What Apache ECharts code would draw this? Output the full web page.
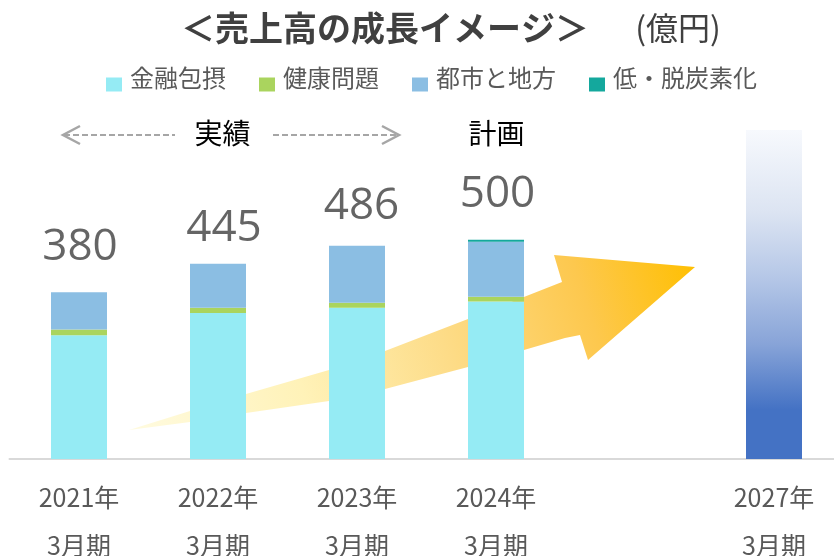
<!DOCTYPE html>
<html>
<head>
<meta charset="utf-8">
<script src="https://cdn.jsdelivr.net/npm/echarts@6/dist/echarts.min.js"></script>
<style>
  html, body { margin: 0; padding: 0; background: #ffffff; }
  #chart { width: 834px; height: 556px; }
</style>
</head>
<body>
<div id="chart"></div>
<script>
// 決算期（2025年・2026年は空欄）
const periods = ['2021年\n3月期', '2022年\n3月期', '2023年\n3月期', '2024年\n3月期', '', '2027年\n3月期'];

// 売上高の内訳（億円）
const financialInclusion = [282, 333, 345, 359, '-', '-'];
const healthIssues       = [13, 12, 11, 11, '-', '-'];
const urbanRegional      = [85, 100, 130, 125, '-', '-'];
const decarbonization    = [0, 0, 0, 5, '-', '-'];

// 合計（億円）
const totals = [380, 445, 486, 500, '-', '-'];

// 2027年3月期の目標イメージ
const target2027 = ['-', '-', '-', '-', '-', 750];

// 合計ラベルの位置調整 [dx, dy]
const totalLabelShift = [[1, -45], [6, -35], [4.5, -39], [1.5, -45]];

const JP = "'Noto Sans CJK JP', 'Noto Sans', sans-serif";
const barW = 56;

const chart = echarts.init(document.getElementById('chart'), null, { renderer: 'canvas' });

function stackSeries(name, data, color) {
  return {
    name: name,
    type: 'bar',
    stack: 'total',
    barWidth: barW,
    data: data,
    z: 3,
    itemStyle: { color: color },
    emphasis: { disabled: true },
    silent: true
  };
}

const legendIcon = 'path://M0,0M19,0M0,14L16,14L16,28L0,28Z';

// 成長を示す矢印の形
const arrowPoints = [
  [129, 430], [190, 411], [246, 394], [329, 370], [385, 351], [468, 319], [562, 282],
  [554, 255], [695, 267], [588, 360], [580, 335], [565, 338], [524, 350], [468, 367],
  [385, 389], [329, 401], [246, 413], [190, 422]
];

const dashedColor = '#A6A6A6';

const option = {
  animation: false,
  backgroundColor: '#ffffff',
  grid: { left: 9.5, top: 108, width: 834, height: 351, containLabel: false, outerBoundsMode: 'none' },
  legend: {
    data: ['金融包摂', '健康問題', '都市と地方', '低・脱炭素化'],
    left: 106,
    top: 63.5,
    padding: 0,
    itemWidth: 19,
    itemHeight: 28,
    itemGap: 33,
    icon: legendIcon,
    selectedMode: false,
    textStyle: { fontSize: 24, color: '#595959', fontFamily: JP }
  },
  xAxis: {
    type: 'category',
    data: periods,
    boundaryGap: true,
    axisLine: { show: true, lineStyle: { color: '#D9D9D9', width: 2 } },
    axisTick: { show: false },
    axisLabel: {
      interval: 0,
      margin: 14,
      fontSize: 25,
      lineHeight: 48,
      color: '#595959',
      fontFamily: JP
    },
    splitLine: { show: false }
  },
  yAxis: {
    type: 'value',
    min: 0,
    max: 800,
    show: false,
    splitLine: { show: false }
  },
  series: [
    stackSeries('金融包摂', financialInclusion, '#95EBF4'),
    stackSeries('健康問題', healthIssues, '#AAD45E'),
    stackSeries('都市と地方', urbanRegional, '#8BBEE3'),
    stackSeries('低・脱炭素化', decarbonization, '#14A89D'),
    {
      name: '2027年目標',
      type: 'bar',
      stack: 'total',
      barWidth: barW,
      z: 3,
      data: target2027,
      silent: true,
      itemStyle: {
        color: new echarts.graphic.LinearGradient(0, 0, 0, 1, [
          { offset: 0, color: '#F7F9FD' },
          { offset: 0.25, color: '#DCE4F2' },
          { offset: 0.45, color: '#B5C7E7' },
          { offset: 0.65, color: '#88A4D8' },
          { offset: 0.85, color: '#4472C4' },
          { offset: 1, color: '#4472C4' }
        ])
      }
    },
    {
      name: '合計',
      type: 'scatter',
      data: totals,
      symbolSize: 1,
      z: 4,
      silent: true,
      itemStyle: { color: 'rgba(0,0,0,0)' },
      label: {
        show: true,
        position: 'inside',
        fontSize: 44,
        fontFamily: "'Open Sans', 'Noto Sans', sans-serif",
        color: '#3F3F3F',
        formatter: p => String(totals[p.dataIndex])
      },
      labelLayout: p => {
        const s = totalLabelShift[p.dataIndex] || [0, 0];
        return { dx: s[0], dy: s[1] };
      }
    }
  ],
  graphic: [
    {
      type: 'polygon',
      z: 0,
      silent: true,
      shape: { points: arrowPoints },
      style: {
        fill: new echarts.graphic.LinearGradient(0, 1, 1, 0, [
          { offset: 0, color: '#FFFBE0' },
          { offset: 0.3, color: '#FFF2B8' },
          { offset: 0.55, color: '#FDDC88' },
          { offset: 0.8, color: '#FDC84E' },
          { offset: 1, color: '#FFBF00' }
        ])
      }
    },
    {
      type: 'text',
      x: 385, y: 28, silent: true,
      style: {
        text: '＜売上高の成長イメージ＞',
        align: 'center', verticalAlign: 'middle',
        font: "bold 34px 'Noto Sans CJK JP'",
        fill: '#404040'
      }
    },
    {
      type: 'text',
      x: 678, y: 28, silent: true,
      style: {
        text: '(億円)',
        align: 'center', verticalAlign: 'middle',
        font: "32px 'Noto Sans CJK JP'",
        fill: '#404040'
      }
    },
    {
      type: 'text',
      x: 222.5, y: 133, silent: true,
      style: {
        text: '実績', align: 'center', verticalAlign: 'middle',
        font: "28px 'Noto Sans CJK JP'", fill: '#000000'
      }
    },
    {
      type: 'text',
      x: 496.5, y: 133, silent: true,
      style: {
        text: '計画', align: 'center', verticalAlign: 'middle',
        font: "28px 'Noto Sans CJK JP'", fill: '#000000'
      }
    },
    {
      type: 'line', silent: true,
      shape: { x1: 64, y1: 135, x2: 175, y2: 135 },
      style: { stroke: dashedColor, lineWidth: 2, lineDash: [6, 3] }
    },
    {
      type: 'polyline', silent: true,
      shape: { points: [[80, 126], [63, 135], [80, 144]] },
      style: { stroke: dashedColor, lineWidth: 2.5, fill: null }
    },
    {
      type: 'line', silent: true,
      shape: { x1: 273, y1: 135, x2: 398, y2: 135 },
      style: { stroke: dashedColor, lineWidth: 2, lineDash: [6, 3] }
    },
    {
      type: 'polyline', silent: true,
      shape: { points: [[382, 126], [399, 135], [382, 144]] },
      style: { stroke: dashedColor, lineWidth: 2.5, fill: null }
    }
  ]
};

chart.setOption(option);
</script>
</body>
</html>
